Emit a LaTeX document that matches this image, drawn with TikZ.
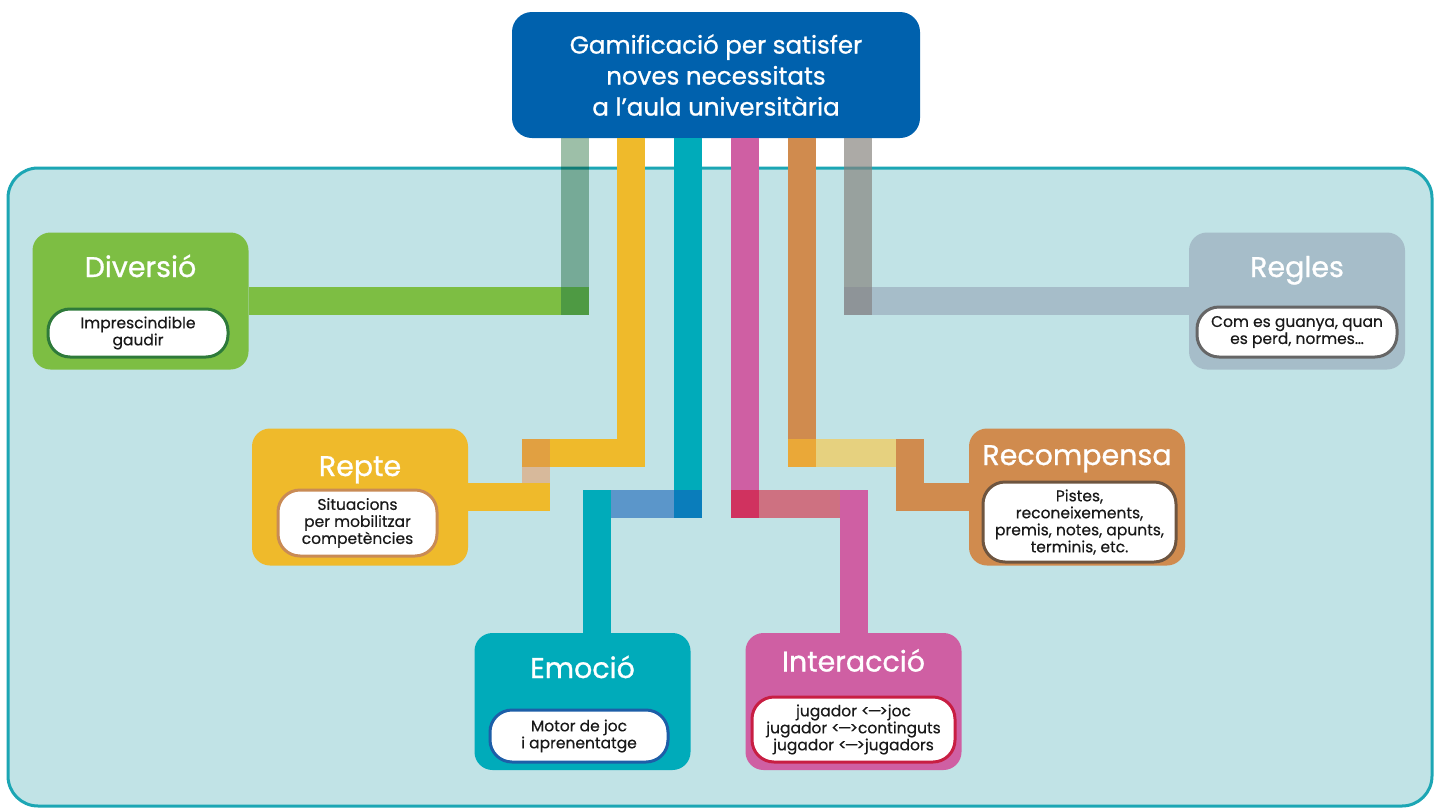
\documentclass[tikz,border=0pt]{standalone}
\usepackage{fontspec}
\setmainfont{Poppins}[FakeBold=0.4]
\newfontfamily\headfont{Poppins}[FakeBold=0.9]
\usetikzlibrary{positioning}

\definecolor{topblue}{HTML}{0061AD}
\definecolor{panelfill}{HTML}{C1E3E6}
\definecolor{panelline}{HTML}{1CA6B4}
\definecolor{divgreen}{HTML}{7DBE43}
\definecolor{divline}{HTML}{2E7A3A}
\definecolor{divbar}{HTML}{9DBFA8}
\definecolor{divknot}{HTML}{4E9A43}
\definecolor{repyellow}{HTML}{EFBA2B}
\definecolor{repline}{HTML}{C98B55}
\definecolor{repknot}{HTML}{E1A041}
\definecolor{reptan}{HTML}{D7B99B}
\definecolor{emoteal}{HTML}{00ABBA}
\definecolor{emoline}{HTML}{1D5EA8}
\definecolor{emobar}{HTML}{5B96CA}
\definecolor{emoknot}{HTML}{0A7DBB}
\definecolor{intpink}{HTML}{CF5FA3}
\definecolor{intline}{HTML}{C81E43}
\definecolor{intbar}{HTML}{CE7181}
\definecolor{intknot}{HTML}{D0325F}
\definecolor{recorange}{HTML}{D08B4E}
\definecolor{recline}{HTML}{6E5540}
\definecolor{recbar}{HTML}{E6D17F}
\definecolor{recknot}{HTML}{EAA838}
\definecolor{regblue}{HTML}{A6BDC9}
\definecolor{regline}{HTML}{666666}
\definecolor{regbar}{HTML}{85827C}
\definecolor{regknot}{HTML}{8E9498}

\begin{document}
\begin{tikzpicture}[x=1pt,y=-1pt,
	box/.style={rounded corners=18, minimum width=216, minimum height=137, inner sep=0},
	ttl/.style={text=white, text height=21, text depth=6, inner sep=0, font=\headfont\fontsize{28.5}{32}\selectfont},
	pill/.style={fill=white, draw, line width=3, rounded corners=22, align=center, inner sep=0, text=black!90, font=\fontsize{15.5}{17}\selectfont},
	bar/.style={line width=28},
	knot/.style={minimum size=28, inner sep=0, outer sep=0}]
	\useasboundingbox (0,0) rectangle (1441,809);
	\fill[white] (0,0) rectangle (1441,809);
	\draw[fill=panelfill, draw=panelline, line width=3, rounded corners=30] (8,168) rectangle (1432,806);

	\node[rounded corners=20, fill=topblue, minimum width=408, minimum height=126, text=white, align=center,
		font=\headfont\fontsize{24.5}{31}\selectfont] (gam) at (716,75) {Gamificació per satisfer\\noves necessitats\\a l’aula universitària};

	\node[box, fill=divgreen] (div) at (140.5,301) {};
	\node[box, fill=repyellow] (rep) at (360,497) {};
	\node[box, fill=emoteal] (emo) at (582.5,701.5) {};
	\node[box, fill=intpink] (int) at (853.5,701.5) {};
	\node[box, fill=recorange] (rec) at (1077,497) {};
	\node[box, fill=regblue] (reg) at (1297,301) {};

	\coordinate (k1) at (575,301);
	\coordinate (r1) at (631,453);
	\coordinate (r2) at (536,453);
	\coordinate (r3) at (536,497);
	\coordinate (e1) at (688,504);
	\coordinate (e2) at (597,504);
	\coordinate (i1) at (745,504);
	\coordinate (i2) at (854,504);
	\coordinate (o1) at (802,453);
	\coordinate (o2) at (910,453);
	\coordinate (o3) at (910,497);
	\coordinate (g1) at (858,301);

	\draw[bar, divgreen] (div.east) -- (k1);
	\draw[bar, divbar, blend mode=multiply] (gam.south -| k1) -- (k1);
	\draw[bar, repyellow] (gam.south -| r1) -- (r1) -- (r2);
	\draw[bar, reptan] (r2) -- (r3);
	\draw[bar, repyellow] (r3) -- (rep.east);
	\draw[bar, emoteal] (gam.south -| e1) -- (e1);
	\draw[bar, emobar] (e1) -- (e2);
	\draw[bar, emoteal] (e2) -- (e2 |- emo.north);
	\draw[bar, intpink] (gam.south -| i1) -- (i1);
	\draw[bar, intbar] (i1) -- (i2);
	\draw[bar, intpink] (i2) -- (i2 |- int.north);
	\draw[bar, recorange] (gam.south -| o1) -- (o1);
	\draw[bar, recbar] (o1) -- (o2);
	\draw[bar, recorange] (o2) -- (o3) -- (rec.west);
	\draw[bar, regblue] (g1) -- (reg.west);
	\draw[bar, regbar, opacity=0.68] (gam.south -| g1) -- (g1);

	\foreach \p/\c in {k1/divknot, r1/repyellow, r2/repknot, r3/repyellow, e1/emoknot, e2/emoteal,
		i1/intknot, i2/intpink, o1/recknot, o2/recorange, o3/recorange, g1/regknot}
		\node[knot, fill=\c] at (\p) {};

	\node[ttl] (divt) at (140.5,269.5) {Diversió};
	\node[pill, draw=divline, minimum width=180, minimum height=48] (divp) at (138,333) {Imprescindible\\gaudir};
	\node[ttl] (rept) at (360,468.5) {Repte};
	\node[pill, draw=repline, minimum width=159, minimum height=66] (repp) at (357.5,523) {Situacions\\per mobilitzar\\competències};
	\node[ttl] (emot) at (582.5,670.5) {Emoció};
	\node[pill, draw=emoline, minimum width=178, minimum height=52] (emop) at (579,736) {Motor de joc\\i aprenentatge};
	\node[ttl] (intt) at (853.5,664) {Interacció};
	\node[pill, draw=intline, minimum width=203, minimum height=65] (intp) at (853.5,729.5)
		{jugador <\kern-2pt—\kern-2pt>joc\\jugador <\kern-2pt—\kern-2pt>continguts\\jugador <\kern-2pt—\kern-2pt>jugadors};
	\node[ttl] (rect) at (1077,457.5) {Recompensa};
	\node[pill, draw=recline, minimum width=193, minimum height=80] (recp) at (1079.5,522) {Pistes,\\reconeixements,\\premis, notes, apunts,\\terminis, etc.};
	\node[ttl] (regt) at (1297,269.5) {Regles};
	\node[pill, draw=regline, minimum width=200, minimum height=50] (regp) at (1297,332) {Com es guanya, quan\\es perd, normes…};
\end{tikzpicture}
\end{document}
